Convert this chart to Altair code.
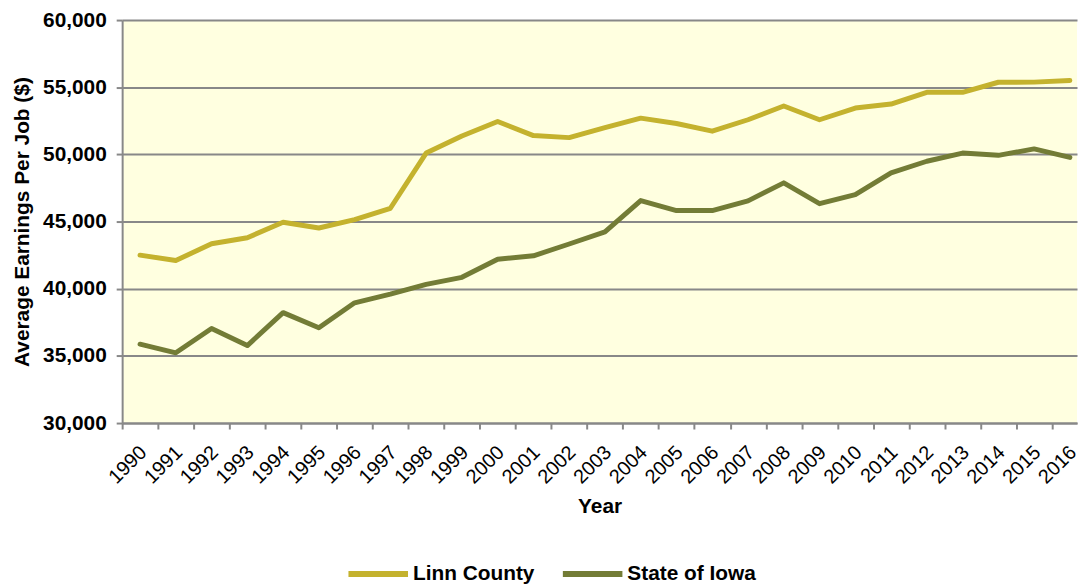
import altair as alt
import pandas as pd

years = list(range(1990, 2017))
linn_county = [42500, 42100, 43350, 43800, 44950, 44520, 45150, 45990, 50100, 51370,
               52450, 51400, 51250, 52000, 52700, 52300, 51730, 52580, 53600, 52580,
               53450, 53750, 54620, 54620, 55370, 55380, 55500]
state_of_iowa = [35870, 35230, 37040, 35770, 38220, 37090, 38950, 39600, 40320, 40850,
                 42200, 42450, 43330, 44230, 46560, 45820, 45820, 46540, 47880, 46330,
                 47000, 48630, 49490, 50100, 49930, 50410, 49780]
series_names = ["Linn County", "State of Iowa"]
series_colors = ["#C4B22E", "#737C36"]
y_ticks = [30000, 35000, 40000, 45000, 50000, 55000, 60000]

rows = []
for name, vals in zip(series_names, [linn_county, state_of_iowa]):
    for y, v in zip(years, vals):
        rows.append({"Year": y, "Value": v, "Series": name})
df = pd.DataFrame(rows)

FONT = "Liberation Sans"

chart = alt.Chart(df).mark_line(strokeWidth=5, strokeCap="round", strokeJoin="round").encode(
    x=alt.X("Year:Q",
            scale=alt.Scale(domain=[1989.5, 2016.2], nice=False, zero=False),
            axis=alt.Axis(values=years, format="d", title="Year", labelAngle=-45,
                          labelAlign="right", labelBaseline="middle",
                          labelFontSize=20, labelFont=FONT, labelColor="#000000",
                          labelPadding=20, tickOffset=-18, labelOffset=21,
                          tickSize=6, tickWidth=2,
                          tickColor="#888888", domainColor="#888888", domainWidth=2,
                          grid=False, titleFont=FONT, titleFontSize=21, titleFontWeight="bold",
                          titleColor="#000000", titlePadding=9, labelOverlap=False)),
    y=alt.Y("Value:Q",
            scale=alt.Scale(domain=[30000, 60000], nice=False, zero=False),
            axis=alt.Axis(values=y_ticks, format=",d", title="Average Earnings Per Job ($)",
                          labelFont=FONT, labelFontSize=21, labelFontWeight="bold",
                          labelColor="#000000", labelPadding=10, tickSize=6, tickWidth=2,
                          tickColor="#888888", domainColor="#888888", domainWidth=2,
                          grid=True, gridColor="#888888", gridWidth=2,
                          titleFont=FONT, titleFontSize=21, titleFontWeight="bold",
                          titleColor="#000000", titlePadding=10)),
    color=alt.Color("Series:N",
                    scale=alt.Scale(domain=series_names, range=series_colors),
                    legend=alt.Legend(title=None, orient="none", direction="horizontal",
                                      legendX=225, legendY=525,
                                      symbolType="stroke", symbolStrokeWidth=6,
                                      symbolSize=3600, labelFont=FONT, labelFontSize=21,
                                      labelFontWeight="bold", labelColor="#000000",
                                      labelOffset=2, columnPadding=16)),
).properties(
    width=962,
    height=406,
    autosize=alt.AutoSizeParams(type="none"),
    padding={"left": 115, "top": 10, "right": 2, "bottom": 162},
).configure_view(
    fill="#FFFFE0", strokeWidth=0
)

chart.save("out.html", embed_options={"renderer": "svg", "actions": False})
